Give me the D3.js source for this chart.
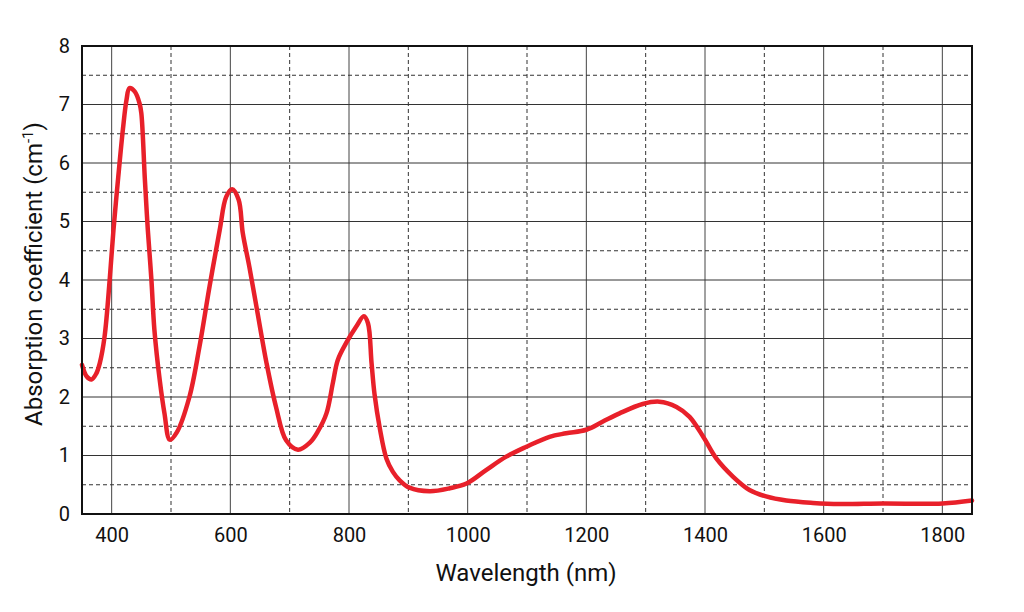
<!DOCTYPE html>
<html>
<head>
<meta charset="utf-8">
<script src="https://cdn.jsdelivr.net/npm/d3@7"></script>
<style>
  html, body { margin: 0; padding: 0; background: #fff; }
  svg { display: block; font-family: "Roboto", "DejaVu Sans", sans-serif; }
</style>
</head>
<body>
<svg id="chart" width="1024" height="612"></svg>
<script>
const wavelength = [350,358,366,374,380,388,397,403,411,419,425,430,439,447,450,456,461,467,472,481,489,498,510,531,548,565,582,593,603,614,621,632,646,661,677,694,714,734,748,762,773,781,795,812,825,832,838,843,852,863,874,885,902,936,970,998,1031,1065,1099,1138,1166,1200,1228,1256,1295,1323,1352,1374,1397,1419,1447,1475,1503,1537,1582,1627,1700,1800,1850];
const absorption = [2.55,2.35,2.30,2.40,2.58,3.03,4.05,4.85,5.75,6.58,7.08,7.28,7.22,7.02,6.85,5.71,4.85,4.0,3.15,2.29,1.72,1.27,1.40,2.0,2.86,3.89,4.85,5.42,5.55,5.37,4.80,4.23,3.43,2.58,1.83,1.26,1.10,1.22,1.42,1.72,2.25,2.63,2.92,3.20,3.38,3.26,2.58,2.05,1.46,0.95,0.72,0.58,0.45,0.39,0.44,0.52,0.75,0.98,1.15,1.32,1.38,1.44,1.58,1.72,1.88,1.92,1.83,1.66,1.32,0.95,0.64,0.41,0.30,0.23,0.19,0.17,0.18,0.18,0.23];
const xTickLabels = [400,600,800,1000,1200,1400,1600,1800];
const yTickLabels = [0,1,2,3,4,5,6,7,8];
const xGrid = [400,500,600,700,800,900,1000,1100,1200,1300,1400,1500,1600,1700,1800];
const yGrid = [0.5,1,1.5,2,2.5,3,3.5,4,4.5,5,5.5,6,6.5,7,7.5];

const svg = d3.select("#chart");
const m = {left: 82, right: 972, top: 46, bottom: 514};
const x = d3.scaleLinear().domain([350, 1850]).range([m.left, m.right]);
const y = d3.scaleLinear().domain([0, 8]).range([m.bottom, m.top]);

const grid = svg.append("g");
grid.selectAll("line.vx").data(xGrid).enter().append("line")
  .attr("x1", d => x(d)).attr("x2", d => x(d))
  .attr("y1", m.top).attr("y2", m.bottom)
  .attr("stroke", d => d % 200 === 0 ? "#444" : "#333")
  .attr("stroke-width", 1)
  .attr("stroke-dasharray", d => d % 200 === 0 ? null : "4,3");
grid.selectAll("line.hy").data(yGrid).enter().append("line")
  .attr("y1", d => y(d)).attr("y2", d => y(d))
  .attr("x1", m.left).attr("x2", m.right)
  .attr("stroke", "#333")
  .attr("stroke-width", 1)
  .attr("stroke-dasharray", d => d % 1 === 0 ? null : "4,3");

// curve
const pts = wavelength.map((w, i) => [w, absorption[i]]);
const line = d3.line().x(d => x(d[0])).y(d => y(d[1])).curve(d3.curveCatmullRom.alpha(0.5));
svg.append("path").datum(pts)
  .attr("d", line)
  .attr("fill", "none")
  .attr("stroke", "#e8202a")
  .attr("stroke-width", 4.5)
  .attr("stroke-linejoin", "round")
  .attr("stroke-linecap", "round");

// frame
svg.append("rect")
  .attr("x", m.left).attr("y", m.top)
  .attr("width", m.right - m.left).attr("height", m.bottom - m.top)
  .attr("fill", "none").attr("stroke", "#111").attr("stroke-width", 2);

// axes
const xAxis = d3.axisBottom(x).tickValues(xTickLabels).tickSize(0).tickPadding(14).tickFormat(d3.format("d"));
const gx = svg.append("g").attr("transform", `translate(0,${m.bottom})`).call(xAxis);
gx.select(".domain").remove();
gx.selectAll("text").attr("font-size", 20).attr("fill", "#111").attr("font-family", "Roboto, sans-serif");

const yAxis = d3.axisLeft(y).tickValues(yTickLabels).tickSize(0).tickPadding(12).tickFormat(d3.format("d"));
const gy = svg.append("g").attr("transform", `translate(${m.left},0)`).call(yAxis);
gy.select(".domain").remove();
gy.selectAll("text").attr("font-size", 20).attr("fill", "#111").attr("font-family", "Roboto, sans-serif");

svg.append("text")
  .attr("x", (m.left + m.right) / 2 - 1).attr("y", 581)
  .attr("text-anchor", "middle").attr("font-size", 24).attr("fill", "#111")
  .text("Wavelength (nm)");

const yl = svg.append("text")
  .attr("transform", `translate(42,${(m.top + m.bottom) / 2 - 6}) rotate(-90)`)
  .attr("text-anchor", "middle").attr("font-size", 24).attr("fill", "#111");
yl.append("tspan").text("Absorption coefficient (cm");
yl.append("tspan").attr("baseline-shift", "super").attr("font-size", 15).text("-1");
yl.append("tspan").text(")");
</script>
</body>
</html>
